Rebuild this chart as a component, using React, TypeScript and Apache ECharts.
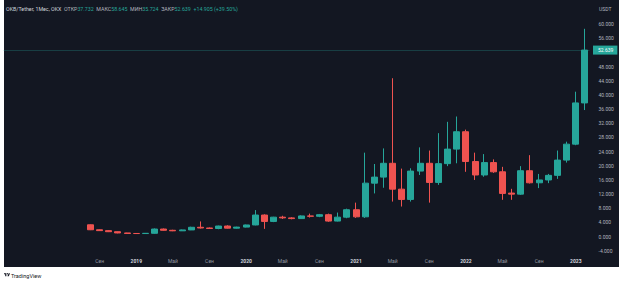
import React, { useEffect, useRef } from 'react';
import * as echarts from 'echarts';

const categories = [
  '2017-11', '2017-12',
  '2018-01', '2018-02', '2018-03', '2018-04', '2018-05', '2018-06', '2018-07', '2018-08', '2018-09', '2018-10', '2018-11', '2018-12',
  '2019-01', '2019-02', '2019-03', '2019-04', '2019-05', '2019-06', '2019-07', '2019-08', '2019-09', '2019-10', '2019-11', '2019-12',
  '2020-01', '2020-02', '2020-03', '2020-04', '2020-05', '2020-06', '2020-07', '2020-08', '2020-09', '2020-10', '2020-11', '2020-12',
  '2021-01', '2021-02', '2021-03', '2021-04', '2021-05', '2021-06', '2021-07', '2021-08', '2021-09', '2021-10', '2021-11', '2021-12',
  '2022-01', '2022-02', '2022-03', '2022-04', '2022-05', '2022-06', '2022-07', '2022-08', '2022-09', '2022-10', '2022-11', '2022-12',
  '2023-01', '2023-02',
];

// months with candles: 2018-08 .. 2023-02
const candleMonths = categories.slice(categories.indexOf('2018-08'));

const opens = [
  3.35, 1.95, 1.7, 1.4, 1.05,
  0.9, 0.88, 0.95, 2.15, 1.8, 1.65, 1.9, 2.65, 2.45, 2.3, 3.0, 2.4,
  2.7, 3.3, 6.1, 4.3, 5.5, 5.3, 5.1, 5.85, 5.75, 6.2, 4.4, 5.5,
  7.6, 5.6, 15.1, 16.8, 20.7, 13.4, 10.5, 18.5, 20.7, 15.3, 20.6, 24.7,
  29.6, 21.2, 17.4, 20.9, 18.3, 12.3, 12.0, 18.6, 15.2, 16.0, 17.3, 21.6,
  26.1, 37.732,
];
const highs = [
  3.45, 2.05, 1.8, 1.45, 1.1,
  0.98, 1.0, 2.3, 2.3, 1.95, 2.0, 2.8, 4.3, 2.6, 3.1, 3.2, 2.8,
  3.4, 7.5, 6.3, 5.6, 5.9, 5.5, 6.0, 6.5, 6.4, 6.5, 6.8, 7.9,
  9.6, 23.7, 20.5, 24.9, 44.7, 19.2, 19.3, 25.2, 24.3, 29.2, 32.4, 33.9,
  30.2, 23.7, 23.3, 21.8, 19.7, 13.5, 19.9, 23.0, 17.7, 17.7, 24.3, 26.8,
  40.9, 58.645,
];
const lows = [
  1.85, 1.6, 1.3, 0.95, 0.8,
  0.82, 0.83, 0.85, 1.7, 1.55, 1.6, 1.85, 2.3, 2.2, 2.1, 2.3, 2.3,
  2.6, 3.2, 2.2, 4.1, 5.0, 4.9, 5.0, 5.4, 5.5, 4.2, 4.3, 5.2,
  5.3, 5.3, 12.2, 13.8, 9.9, 8.5, 9.9, 17.4, 9.6, 14.6, 19.9, 20.7,
  18.3, 16.0, 16.9, 18.0, 10.4, 10.4, 11.8, 15.0, 13.7, 15.1, 16.3, 20.9,
  25.8, 35.724,
];
const closes = [
  1.95, 1.7, 1.4, 1.05, 0.9,
  0.88, 0.95, 2.15, 1.8, 1.65, 1.9, 2.65, 2.45, 2.3, 3.0, 2.4, 2.7,
  3.3, 6.1, 4.3, 5.5, 5.3, 5.1, 5.85, 5.75, 6.2, 4.4, 5.5, 7.6,
  5.6, 15.1, 16.8, 20.7, 13.4, 10.5, 18.5, 20.7, 15.3, 20.6, 24.7, 29.6,
  21.2, 17.4, 20.9, 18.3, 12.2, 12.0, 18.6, 15.2, 16.0, 17.3, 21.6, 26.1,
  37.734, 52.639,
];

const monthNames: Record<string, string> = { '05': 'Май', '09': 'Сен' };

const UP = '#26a69a';
const DOWN = '#ef5350';
const BG = '#131722';
const FONT = 'Roboto, "Noto Sans", sans-serif';

export default function App() {
  const ref = useRef<HTMLDivElement>(null);

  useEffect(() => {
    if (!ref.current) return;
    const chart = echarts.init(ref.current, undefined, { renderer: 'svg' });

    const firstIdx = categories.indexOf(candleMonths[0]);
    const data = candleMonths.map((m, i) => [m, opens[i], closes[i], lows[i], highs[i]]);
    const n = closes.length;
    const lastO = opens[n - 1];
    const lastH = highs[n - 1];
    const lastL = lows[n - 1];
    const lastC = closes[n - 1];
    const prevC = closes[n - 2];
    const chg = lastC - prevC;
    const chgPct = (chg / prevC) * 100;
    const headerColor = lastC >= lastO ? UP : DOWN;
    const HF = 5.3;

    const option: echarts.EChartsOption = {
      animation: false,
      backgroundColor: '#ffffff',
      textStyle: { fontFamily: FONT },
      grid: { left: 3.5, width: 586, top: 9.82, height: 255.2 },
      xAxis: {
        type: 'category',
        data: categories,
        boundaryGap: true,
        axisLine: { show: false },
        axisTick: { show: false },
        splitLine: { show: false },
        axisLabel: {
          inside: true,
          margin: 1.5,
          fontSize: 5,
          fontFamily: FONT,
          interval: (index: number, value: string) => {
            if (index < firstIdx) return false;
            const mm = value.slice(5);
            return mm === '01' || mm === '05' || mm === '09';
          },
          formatter: (value: string) => {
            const mm = value.slice(5);
            if (mm === '01') return '{y|' + value.slice(0, 4) + '}';
            return '{m|' + (monthNames[mm] || '') + '}';
          },
          rich: {
            y: { color: '#d1d4dc', fontSize: 5, fontWeight: 'bold', fontFamily: FONT },
            m: { color: '#9598a1', fontSize: 5, fontFamily: FONT },
          },
        },
      },
      yAxis: {
        type: 'value',
        position: 'right',
        min: -8,
        max: 64,
        interval: 4,
        scale: false,
        axisLine: { show: false },
        axisTick: { show: false },
        splitLine: { show: false },
        axisLabel: {
          margin: 9,
          fontSize: 5,
          color: '#b2b5be',
          fontFamily: FONT,
          formatter: (v: number) =>
            v <= -8 || v >= 64 || Math.abs(v - lastC) < 2.5 ? '' : v.toFixed(3),
        },
      },
      series: [
        {
          type: 'candlestick',
          data,
          encode: { x: 0, y: [1, 2, 3, 4] },
          barWidth: 6.5,
          itemStyle: {
            color: UP,
            color0: DOWN,
            borderColor: UP,
            borderColor0: DOWN,
            borderWidth: 1,
          },
          markLine: {
            silent: true,
            symbol: ['none', 'none'],
            lineStyle: { color: 'rgba(38,166,154,0.28)', type: 'solid', width: 1 },
            label: {
              show: true,
              position: 'end',
              distance: 3.5,
              formatter: () => lastC.toFixed(3),
              backgroundColor: UP,
              color: '#ffffff',
              fontSize: 5,
              fontFamily: FONT,
              padding: [2, 4, 2, 5],
            },
            data: [{ yAxis: lastC }],
          },
        },
      ],
      graphic: [
        {
          type: 'rect',
          z: -10,
          shape: { x: 4, y: 0, width: 615, height: 267 },
          style: { fill: BG },
        },
        {
          type: 'text',
          x: 6,
          y: 9,
          style: {
            text:
              '{w|OKB/Tether, 1Мес, OKX}  {l|ОТКР}{v|' + lastO.toFixed(3) + '}  {l|МАКС}{v|' + lastH.toFixed(3) +
              '}  {l|МИН}{v|' + lastL.toFixed(3) + '}  {l|ЗАКР}{v|' + lastC.toFixed(3) + '}  {v|' +
              (chg >= 0 ? '+' : '') + chg.toFixed(3) + ' (' + (chgPct >= 0 ? '+' : '') + chgPct.toFixed(2) + '%)}',
            verticalAlign: 'middle',
            fontSize: HF,
            fontFamily: FONT,
            rich: {
              w: { fill: '#d1d4dc', fontSize: HF, fontFamily: FONT },
              l: { fill: '#b2b5be', fontSize: HF, fontFamily: FONT },
              v: { fill: headerColor, fontSize: HF, fontFamily: FONT },
            },
          },
        },
        {
          type: 'text',
          x: 599,
          y: 9,
          style: { text: 'USDT', fill: '#b2b5be', fontSize: 5, fontFamily: FONT, verticalAlign: 'middle' },
        },
        {
          type: 'group',
          x: 4,
          y: 272.5,
          scaleX: 0.17,
          scaleY: 0.17,
          children: [
            { type: 'polygon', shape: { points: [[0, 4], [14, 4], [14, 22], [7, 22], [7, 11], [0, 11]] }, style: { fill: '#131722' } },
            { type: 'circle', shape: { cx: 20, cy: 7.5, r: 3.5 }, style: { fill: '#131722' } },
            { type: 'polygon', shape: { points: [[20, 22], [27.5, 4], [35.5, 4], [28, 22]] }, style: { fill: '#131722' } },
          ],
        },
        {
          type: 'text',
          x: 11,
          y: 275.5,
          style: { text: 'TradingView', fill: '#131722', fontSize: 5.5, fontFamily: FONT, verticalAlign: 'middle' },
        },
      ],
    };

    chart.setOption(option);
    return () => chart.dispose();
  }, []);

  return (
    <div
      ref={ref}
      style={{ position: 'fixed', left: 0, top: 0, width: 624, height: 283 }}
    />
  );
}
